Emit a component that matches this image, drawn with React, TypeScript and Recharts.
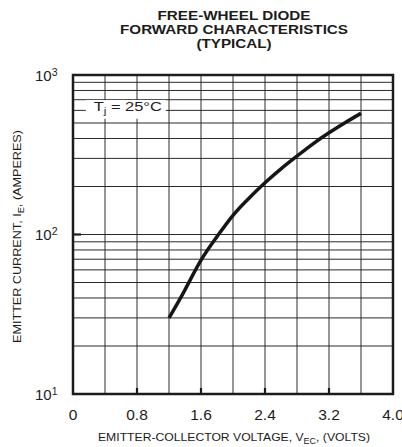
import React from "react";
import {
  LineChart,
  Line,
  XAxis,
  YAxis,
  CartesianGrid,
  ReferenceArea,
} from "recharts";

// ---- data ----
const voltage = [1.2, 1.4, 1.6, 1.8, 2.0, 2.2, 2.4, 2.6, 2.8, 3.0, 3.2, 3.4, 3.6];
const current = [30, 45, 69, 97, 132, 169, 211, 258, 310, 370, 434, 502, 575];

const xTicks = [0, 0.4, 0.8, 1.2, 1.6, 2.0, 2.4, 2.8, 3.2, 3.6, 4.0];
const xTickLabels = ["0", "", "0.8", "", "1.6", "", "2.4", "", "3.2", "", "4.0"];

const yTicks = [10, 20, 30, 40, 50, 60, 70, 80, 90, 100, 200, 300, 400, 500, 600, 700, 800, 900, 1000];
const yDecades = [10, 100, 1000];
const yDecadeExponents = ["1", "2", "3"];

const titleLines = ["FREE-WHEEL DIODE", "FORWARD CHARACTERISTICS", "(TYPICAL)"];

const data = voltage.map((v, i) => ({ v, ie: current[i] }));

const FONT = "'Liberation Sans', Arial, Helvetica, sans-serif";
const INK = "#1c1c1c";

function xIndex(value: number) {
  return xTicks.findIndex((t) => Math.abs(t - value) < 1e-6);
}

function BottomTick(props: any) {
  const { x, y, payload } = props;
  const idx = xIndex(payload.value);
  const label = idx >= 0 ? xTickLabels[idx] : "";
  const inner = label !== "" && idx > 0 && idx < xTicks.length - 1;
  return (
    <g>
      {inner && <line x1={x} x2={x} y1={y} y2={y - 6} stroke={INK} strokeWidth={2.2} />}
      {label !== "" && (
        <text x={x} y={y + 25.5} textAnchor="middle" fontFamily={FONT} fontSize={15.5} fill={INK}>
          {label}
        </text>
      )}
    </g>
  );
}

function TopTick(props: any) {
  const { x, y, payload } = props;
  const idx = xIndex(payload.value);
  const label = idx >= 0 ? xTickLabels[idx] : "";
  const inner = label !== "" && idx > 0 && idx < xTicks.length - 1;
  if (!inner) return <g />;
  return <line x1={x} x2={x} y1={y} y2={y + 6} stroke={INK} strokeWidth={2.2} />;
}

function LeftTick(props: any) {
  const { x, y, payload } = props;
  const di = yDecades.indexOf(payload.value);
  if (di < 0) return <g />;
  const inner = di > 0 && di < yDecades.length - 1;
  return (
    <g>
      {inner && <line x1={x} x2={x + 8} y1={y} y2={y} stroke={INK} strokeWidth={2.2} />}
      <text x={x - 38} y={y + 5.5} fontFamily={FONT} fontSize={15} fill={INK}>
        10
        <tspan dy={-5} fontSize={10.5}>
          {yDecadeExponents[di]}
        </tspan>
      </text>
    </g>
  );
}

function RightTick(props: any) {
  const { x, y } = props;
  return <line x1={x - 9} x2={x} y1={y} y2={y} stroke={INK} strokeWidth={2.2} />;
}

function XTitle(props: any) {
  const vb = props.viewBox || {};
  const cx = vb.x + vb.width / 2 + 1;
  return (
    <text x={cx} y={vb.y + 46.5} textAnchor="middle" fontFamily={FONT} fontSize={11.5} fill={INK} textLength={272} lengthAdjust="spacingAndGlyphs">
      EMITTER-COLLECTOR VOLTAGE, V
      <tspan dy={3} fontSize={8.5}>EC</tspan>
      <tspan dy={-3}>, (VOLTS)</tspan>
    </text>
  );
}

function YTitle(props: any) {
  const vb = props.viewBox || {};
  const cx = 20.5;
  const cy = vb.y + vb.height / 2 + 2;
  return (
    <text
      x={cx}
      y={cy}
      transform={`rotate(-90 ${cx} ${cy})`}
      textAnchor="middle"
      fontFamily={FONT}
      fontSize={11.5}
      fill={INK}
      textLength={213}
      lengthAdjust="spacingAndGlyphs"
    >
      EMITTER CURRENT, I
      <tspan dy={3} fontSize={8.5}>E</tspan>
      <tspan dy={-3}>, (AMPERES)</tspan>
    </text>
  );
}

function TjLabel(props: any) {
  const vb = props.viewBox || {};
  return (
    <text x={vb.x + 8} y={vb.y + 11.5} fontFamily={FONT} fontSize={12.5} fill={INK} textLength={68} lengthAdjust="spacingAndGlyphs">
      T
      <tspan dy={3} fontSize={9}>j</tspan>
      <tspan dy={-3}> = 25°C</tspan>
    </text>
  );
}

export default function App() {
  return (
    <div style={{ position: "absolute", left: 0, top: 0, width: 402, height: 447, background: "#fff" }}>
      <svg width={402} height={60} style={{ position: "absolute", left: 0, top: 0 }}>
        {titleLines.map((t, i) => (
          <text
            key={i}
            x={234}
            y={20 + i * 14}
            textAnchor="middle"
            fontFamily={FONT}
            fontWeight="bold"
            fontSize={12}
            fill={INK}
            textLength={[153, 228, 75][i]}
            lengthAdjust="spacingAndGlyphs"
          >
            {t}
          </text>
        ))}
      </svg>
      <div style={{ position: "absolute", left: 0, top: 0 }}>
        <LineChart width={402} height={447} data={data} margin={{ top: 75, right: 9, bottom: 0, left: 0 }}>
          <CartesianGrid stroke="#2a2a2a" strokeWidth={1} />
          <XAxis
            dataKey="v"
            type="number"
            domain={[0, 4]}
            ticks={xTicks}
            height={53}
            axisLine={false}
            tickLine={false}
            tickSize={0}
            tickMargin={0}
            tick={<BottomTick />}
            interval={0}
            allowDataOverflow
            label={XTitle}
          />
          <XAxis
            xAxisId="top"
            orientation="top"
            type="number"
            domain={[0, 4]}
            ticks={xTicks}
            height={0}
            axisLine={false}
            tickLine={false}
            tickSize={0}
            tickMargin={0}
            tick={<TopTick />}
            interval={0}
            allowDataOverflow
          />
          <YAxis
            type="number"
            scale="log"
            domain={[10, 1000]}
            ticks={yTicks}
            width={73}
            axisLine={false}
            tickLine={false}
            tickSize={0}
            tickMargin={0}
            tick={<LeftTick />}
            interval={0}
            allowDataOverflow
            label={YTitle}
          />
          <YAxis
            yAxisId="right"
            orientation="right"
            type="number"
            scale="log"
            domain={[10, 1000]}
            ticks={[100]}
            width={0}
            axisLine={false}
            tickLine={false}
            tickSize={0}
            tickMargin={0}
            tick={<RightTick />}
            interval={0}
            allowDataOverflow
          />
          <ReferenceArea
            x1={0.16}
            x2={1.16}
            y1={531}
            y2={698}
            fill="#ffffff"
            fillOpacity={1}
            stroke="none"
            ifOverflow="visible"
            label={TjLabel}
          />
          <ReferenceArea
            x1={0}
            x2={4}
            y1={10}
            y2={1000}
            fill="none"
            stroke={INK}
            strokeWidth={2.5}
            ifOverflow="visible"
          />
          <Line
            type="natural"
            dataKey="ie"
            stroke="#161616"
            strokeWidth={3.5}
            dot={false}
            isAnimationActive={false}
          />
        </LineChart>
      </div>
    </div>
  );
}
